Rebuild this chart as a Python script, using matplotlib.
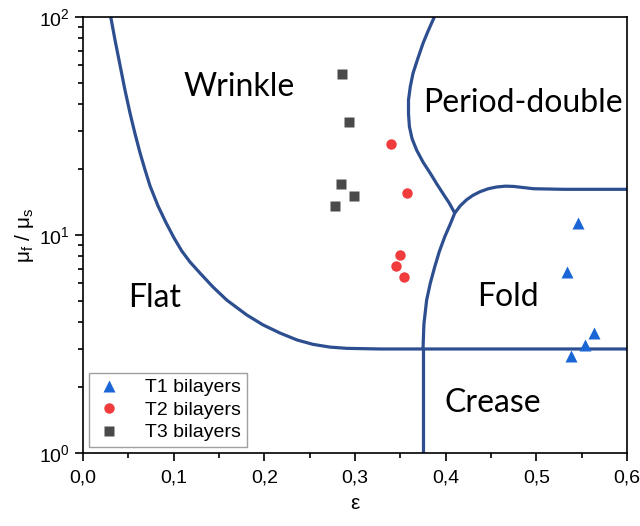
import matplotlib
matplotlib.use('Agg')
import matplotlib.pyplot as plt
from matplotlib.ticker import FuncFormatter, MultipleLocator, LogLocator

plt.rcParams['font.family'] = ['Liberation Sans', 'DejaVu Sans']
plt.rcParams['mathtext.default'] = 'regular'

# measured samples
t1_eps = [0.546, 0.534, 0.564, 0.554, 0.538]
t1_mu = [11.4, 6.8, 3.54, 3.13, 2.79]
t2_eps = [0.340, 0.357, 0.350, 0.345, 0.354]
t2_mu = [26.1, 15.6, 8.1, 7.2, 6.4]
t3_eps = [0.286, 0.293, 0.285, 0.299, 0.278]
t3_mu = [54.8, 33.0, 17.1, 15.1, 13.6]

# phase boundaries
flat_eps = [0.0306, 0.0353, 0.0408, 0.0463, 0.0518, 0.0574, 0.0629, 0.0684, 0.0739, 0.0827,
            0.0915, 0.1004, 0.1089, 0.1180, 0.1290, 0.1434, 0.1585, 0.1805, 0.1985, 0.2173,
            0.2360, 0.2537, 0.2724, 0.2908, 0.3276, 0.375, 0.6]
flat_mu = [100, 78.4, 60.2, 46.2, 36.3, 29.1, 23.8, 19.9, 16.8, 13.6,
           11.4, 9.69, 8.45, 7.52, 6.69, 5.77, 5.03, 4.30, 3.87, 3.55,
           3.30, 3.15, 3.06, 3.02, 3.0, 3.0, 3.0]
crease_eps = [0.375, 0.375]
crease_mu = [1.0, 3.0]
pd_eps = [0.3875, 0.381, 0.375, 0.369, 0.364, 0.361, 0.359, 0.359, 0.360, 0.363,
          0.368, 0.375, 0.383, 0.390, 0.397, 0.404, 0.410]
pd_mu = [100, 87, 75.7, 64, 55.2, 48, 41.6, 36, 31.4, 27.6,
         24.5, 21.6, 19.2, 17.2, 15.5, 14.0, 12.6]
fold_eps = [0.375, 0.376, 0.379, 0.383, 0.388, 0.393, 0.399, 0.405, 0.410, 0.416,
            0.423, 0.430, 0.438, 0.447, 0.456, 0.466, 0.475, 0.486, 0.497, 0.53, 0.6]
fold_mu = [3.0, 3.9, 5.03, 6.0, 7.16, 8.4, 9.82, 11.2, 12.6, 13.6,
           14.5, 15.2, 15.8, 16.3, 16.6, 16.75, 16.7, 16.5, 16.3, 16.2, 16.2]

regions = ['Wrinkle', 'Period-double', 'Flat', 'Fold', 'Crease']
region_eps = [0.172, 0.485, 0.079, 0.469, 0.452]
region_mu = [47.7, 40.3, 5.14, 5.21, 1.69]

line_col = '#2d4f90'

fig = plt.figure(figsize=(6.4, 5.26), dpi=100)
ax = fig.add_axes([0.1297, 0.1388, 0.8500, 0.8289])

for xs, ys in [(flat_eps, flat_mu), (crease_eps, crease_mu), (pd_eps, pd_mu), (fold_eps, fold_mu)]:
    ax.plot(xs, ys, color=line_col, lw=2.3, solid_capstyle='butt', solid_joinstyle='round', zorder=2)

ax.plot(t1_eps, t1_mu, '^', color='#1a66d6', ms=8.5, mec='none', label='T1 bilayers', zorder=3)
ax.plot(t2_eps, t2_mu, 'o', color='#f03c3c', ms=7.5, mec='none', label='T2 bilayers', zorder=3)
ax.plot(t3_eps, t3_mu, 's', color='#4a4a4a', ms=6.5, mec='none', label='T3 bilayers', zorder=3)

for name, ex, mu in zip(regions, region_eps, region_mu):
    ax.text(ex, mu, name, family='Lato', fontsize=23, ha='center', va='center')

ax.set_yscale('log')
ax.set_xlim(0, 0.6)
ax.set_ylim(1, 100)
ax.xaxis.set_major_locator(MultipleLocator(0.1))
ax.xaxis.set_minor_locator(MultipleLocator(0.05))
ax.xaxis.set_major_formatter(FuncFormatter(lambda v, p: f'{v:.1f}'.replace('.', ',')))
ax.yaxis.set_minor_locator(LogLocator(base=10, subs=range(2, 10)))
ax.tick_params(which='major', direction='out', length=6, width=1.2, labelsize=14)
ax.tick_params(which='minor', direction='out', length=3.5, width=1.2)
ax.tick_params(axis='x', pad=6)
for s in ax.spines.values():
    s.set_linewidth(1.2)

ax.set_xlabel('ε', fontsize=15, labelpad=5)
ax.set_ylabel('μ$_f$ / μ$_s$', fontsize=15, labelpad=2)

leg = ax.legend(loc='lower left', fontsize=14, fancybox=False, edgecolor='#888888',
                handletextpad=1.1, borderaxespad=0.3, labelspacing=0.25,
                handlelength=1.5, borderpad=0.3)
leg.get_frame().set_linewidth(1.0)

fig.savefig('out.png', dpi=100)
